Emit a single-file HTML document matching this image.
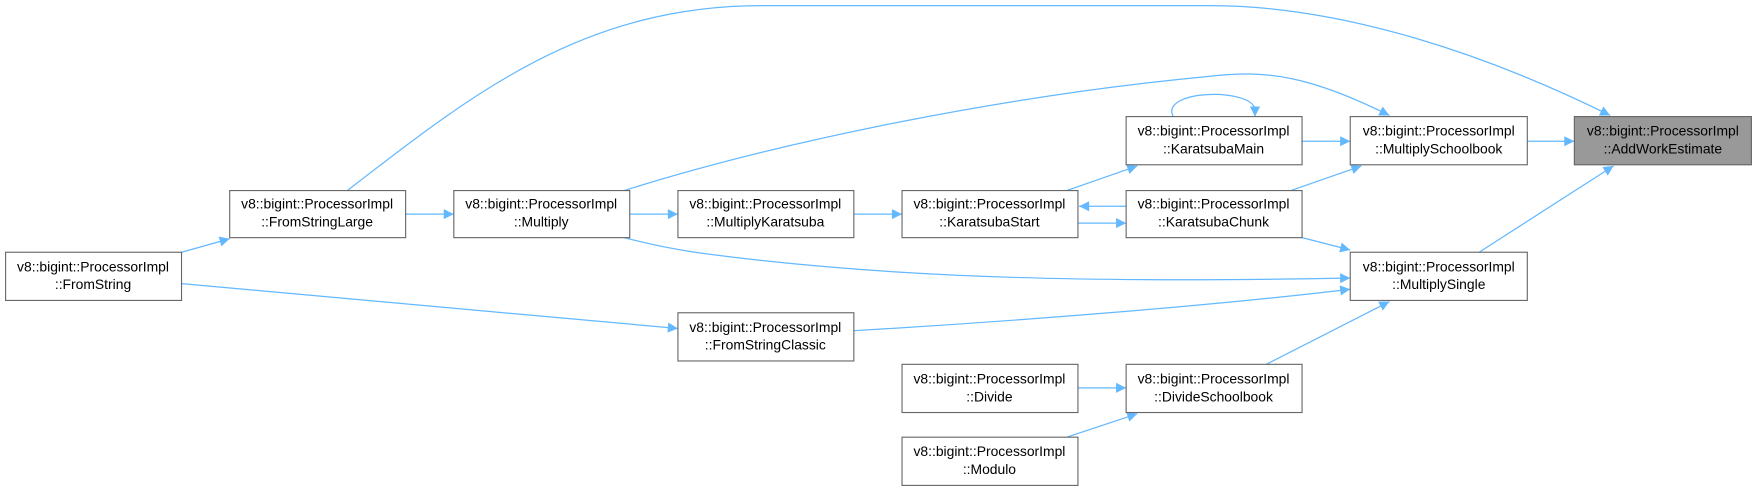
<!DOCTYPE html>
<html><head><meta charset="utf-8"><style>
html,body{margin:0;padding:0;background:#fff;}
svg{display:block}
text{font-family:"Liberation Sans",sans-serif;font-size:12.4px;fill:#000;text-anchor:middle}
.b{fill:#fff;stroke:#666;stroke-width:1}
.e{fill:none;stroke:#63b8ff;stroke-width:1.1}
</style></head><body>
<svg width="1757" height="491" viewBox="0 0 1568 438" preserveAspectRatio="none" xmlns="http://www.w3.org/2000/svg">
<defs><marker id="a" viewBox="0 0 10 10" refX="10" refY="5" markerWidth="11" markerHeight="9" markerUnits="userSpaceOnUse" orient="auto"><path d="M0,0 L10,5 L0,10 z" fill="#63b8ff"/></marker></defs>
<g class="e" marker-end="url(#a)">
<path d="M1363,126 L1405,126"/>
<path d="M1320,225 L1440,148"/>
<path d="M310,170 C420,85 520,5 680,5 L1080,5 C1200,5 1330,50 1437,103"/>
<path d="M557,170 C700,125 900,85 1080,68 C1130,62 1170,68 1240,103"/>
<path d="M1162,126 L1205,126"/>
<path d="M1152,170 L1215,148"/>
<path d="M1047,104 C1035,80 1115,78 1120,97 L1120,104"/>
<path d="M952,170 L1015,148"/>
<path d="M1005,184 L963,184"/>
<path d="M962,199 L1005,199"/>
<path d="M1162,212 L1205,223"/>
<path d="M762,191 L805,191"/>
<path d="M562,191 L605,191"/>
<path d="M362,191 L405,191"/>
<path d="M162,225 L205,213"/>
<path d="M557,212 C580,218 600,222 620,225 C800,250 1000,252 1205,248"/>
<path d="M162,253 L605,293"/>
<path d="M762,295 C900,287 1080,273 1205,258"/>
<path d="M1130,325 L1240,269"/>
<path d="M962,346 L1005,346"/>
<path d="M952,390 L1015,369"/>
</g>
<rect x="1405" y="104" width="158" height="43" fill="#999" stroke="#666"/>
<text x="1484" y="121">v8::bigint::ProcessorImpl</text><text x="1484" y="137">::AddWorkEstimate</text>
<g>
<rect class="b" x="1205" y="104" width="158" height="43"/><text x="1284" y="121">v8::bigint::ProcessorImpl</text><text x="1284" y="137">::MultiplySchoolbook</text>
<rect class="b" x="1005" y="104" width="157" height="43"/><text x="1083" y="121">v8::bigint::ProcessorImpl</text><text x="1083" y="137">::KaratsubaMain</text>
<rect class="b" x="1005" y="170" width="157" height="42"/><text x="1083" y="186">v8::bigint::ProcessorImpl</text><text x="1083" y="202">::KaratsubaChunk</text>
<rect class="b" x="1205" y="225" width="158" height="43"/><text x="1284" y="242">v8::bigint::ProcessorImpl</text><text x="1284" y="258">::MultiplySingle</text>
<rect class="b" x="805" y="170" width="157" height="42"/><text x="883" y="186">v8::bigint::ProcessorImpl</text><text x="883" y="202">::KaratsubaStart</text>
<rect class="b" x="605" y="170" width="157" height="42"/><text x="683" y="186">v8::bigint::ProcessorImpl</text><text x="683" y="202">::MultiplyKaratsuba</text>
<rect class="b" x="405" y="170" width="157" height="42"/><text x="483" y="186">v8::bigint::ProcessorImpl</text><text x="483" y="202">::Multiply</text>
<rect class="b" x="205" y="170" width="157" height="42"/><text x="283" y="186">v8::bigint::ProcessorImpl</text><text x="283" y="202">::FromStringLarge</text>
<rect class="b" x="5" y="225" width="157" height="43"/><text x="83" y="242">v8::bigint::ProcessorImpl</text><text x="83" y="258">::FromString</text>
<rect class="b" x="605" y="279" width="157" height="43"/><text x="683" y="296">v8::bigint::ProcessorImpl</text><text x="683" y="312">::FromStringClassic</text>
<rect class="b" x="1005" y="325" width="157" height="43"/><text x="1083" y="342">v8::bigint::ProcessorImpl</text><text x="1083" y="358">::DivideSchoolbook</text>
<rect class="b" x="805" y="325" width="157" height="43"/><text x="883" y="342">v8::bigint::ProcessorImpl</text><text x="883" y="358">::Divide</text>
<rect class="b" x="805" y="390" width="157" height="43"/><text x="883" y="407">v8::bigint::ProcessorImpl</text><text x="883" y="423">::Modulo</text>
</g>
</svg>
</body></html>
